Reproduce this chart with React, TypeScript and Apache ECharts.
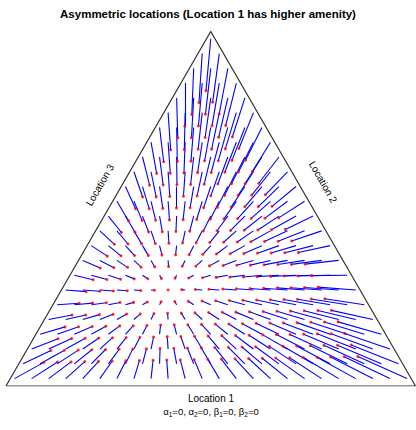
import React, { useEffect, useRef } from "react";
import * as echarts from "echarts";

// Ternary grid with 24 steps per side; all shares are in units of 1/24.
const GRID_STEPS = 24;

// Starting states: row k has Location 3 share loc3Start[k], column j has Location 2 share loc2Start[j]
const loc3Start = [
  0.5, 1.5, 2.5, 3.5, 4.5, 5.5, 6.5, 7.5, 8.5, 9.5, 10.5, 11.5,
  12.5, 13.5, 14.5, 15.5, 16.5, 17.5, 18.5, 19.5, 20.5, 21.5, 22.5, 23.5,
];
const loc2Start = [
  0.25, 1.25, 2.25, 3.25, 4.25, 5.25, 6.25, 7.25, 8.25, 9.25, 10.25, 11.25,
  12.25, 13.25, 14.25, 15.25, 16.25, 17.25, 18.25, 19.25, 20.25, 21.25, 22.25, 23.25,
];

// Next-period Location 2 share for each starting state, row by row
const loc2NextRows = [
  [1.42, 2.21, 3.0, 3.79, 4.59, 5.38, 6.17, 6.96, 7.75, 8.54, 9.33, 10.13, 10.92, 11.71, 12.5, 13.29, 14.08, 14.87, 15.67, 16.46, 17.25, 18.04, 18.83, 19.62],
  [1.43, 2.22, 3.02, 3.81, 4.6, 5.39, 6.18, 6.97, 7.76, 8.56, 9.35, 10.14, 10.93, 11.72, 12.51, 13.3, 14.1, 14.89, 15.68, 16.47, 17.26, 18.05, 18.84],
  [1.45, 2.24, 3.03, 3.82, 4.61, 5.4, 6.2, 6.99, 7.78, 8.57, 9.36, 10.15, 10.94, 11.74, 12.53, 13.32, 14.11, 14.9, 15.69, 16.48, 17.28, 18.07],
  [1.46, 2.25, 3.04, 3.83, 4.63, 5.42, 6.21, 7.0, 7.79, 8.58, 9.37, 10.17, 10.96, 11.75, 12.54, 13.33, 14.12, 14.91, 15.71, 16.5, 17.29],
  [1.47, 2.27, 3.06, 3.85, 4.64, 5.43, 6.22, 7.01, 7.81, 8.6, 9.39, 10.18, 10.97, 11.76, 12.55, 13.35, 14.14, 14.93, 15.72, 16.51],
  [1.49, 2.28, 3.07, 3.86, 4.65, 5.44, 6.24, 7.03, 7.82, 8.61, 9.4, 10.19, 10.98, 11.78, 12.57, 13.36, 14.15, 14.94, 15.73],
  [1.5, 2.29, 3.08, 3.88, 4.67, 5.46, 6.25, 7.04, 7.83, 8.62, 9.42, 10.21, 11.0, 11.79, 12.58, 13.37, 14.16, 14.95],
  [1.51, 2.31, 3.1, 3.89, 4.68, 5.47, 6.26, 7.05, 7.85, 8.64, 9.43, 10.22, 11.01, 11.8, 12.59, 13.39, 14.18],
  [1.53, 2.32, 3.11, 3.9, 4.69, 5.49, 6.28, 7.07, 7.86, 8.65, 9.44, 10.23, 11.02, 11.82, 12.61, 13.4],
  [1.54, 2.33, 3.12, 3.92, 4.71, 5.5, 6.29, 7.08, 7.87, 8.66, 9.46, 10.25, 11.04, 11.83, 12.62],
  [1.56, 2.35, 3.14, 3.93, 4.72, 5.51, 6.3, 7.09, 7.89, 8.68, 9.47, 10.26, 11.05, 11.84],
  [1.57, 2.36, 3.15, 3.94, 4.73, 5.53, 6.32, 7.11, 7.9, 8.69, 9.48, 10.27, 11.07],
  [1.58, 2.37, 3.16, 3.96, 4.75, 5.54, 6.33, 7.12, 7.91, 8.7, 9.5, 10.29],
  [1.6, 2.39, 3.18, 3.97, 4.76, 5.55, 6.34, 7.14, 7.93, 8.72, 9.51],
  [1.61, 2.4, 3.19, 3.98, 4.77, 5.57, 6.36, 7.15, 7.94, 8.73],
  [1.62, 2.41, 3.21, 4.0, 4.79, 5.58, 6.37, 7.16, 7.95],
  [1.64, 2.43, 3.22, 4.01, 4.8, 5.59, 6.38, 7.18],
  [1.65, 2.44, 3.23, 4.02, 4.82, 5.61, 6.4],
  [1.66, 2.45, 3.25, 4.04, 4.83, 5.62],
  [1.68, 2.47, 3.26, 4.05, 4.84],
  [1.69, 2.48, 3.27, 4.06],
  [1.7, 2.49, 3.29],
  [1.72, 2.51],
  [1.73],
];

// Next-period Location 3 share for each starting state, row by row
const loc3NextRows = [
  [1.6, 1.62, 1.63, 1.65, 1.67, 1.69, 1.7, 1.72, 1.74, 1.76, 1.77, 1.79, 1.81, 1.82, 1.84, 1.86, 1.88, 1.89, 1.91, 1.93, 1.95, 1.96, 1.98, 2.0],
  [2.4, 2.42, 2.43, 2.45, 2.47, 2.49, 2.5, 2.52, 2.54, 2.55, 2.57, 2.59, 2.61, 2.62, 2.64, 2.66, 2.68, 2.69, 2.71, 2.73, 2.75, 2.76, 2.78],
  [3.2, 3.22, 3.23, 3.25, 3.27, 3.28, 3.3, 3.32, 3.34, 3.35, 3.37, 3.39, 3.41, 3.42, 3.44, 3.46, 3.48, 3.49, 3.51, 3.53, 3.54, 3.56],
  [4.0, 4.01, 4.03, 4.05, 4.07, 4.08, 4.1, 4.12, 4.14, 4.15, 4.17, 4.19, 4.2, 4.22, 4.24, 4.26, 4.27, 4.29, 4.31, 4.33, 4.34],
  [4.8, 4.81, 4.83, 4.85, 4.87, 4.88, 4.9, 4.92, 4.93, 4.95, 4.97, 4.99, 5.0, 5.02, 5.04, 5.06, 5.07, 5.09, 5.11, 5.12],
  [5.6, 5.61, 5.63, 5.65, 5.66, 5.68, 5.7, 5.72, 5.73, 5.75, 5.77, 5.79, 5.8, 5.82, 5.84, 5.85, 5.87, 5.89, 5.91],
  [6.39, 6.41, 6.43, 6.45, 6.46, 6.48, 6.5, 6.52, 6.53, 6.55, 6.57, 6.58, 6.6, 6.62, 6.64, 6.65, 6.67, 6.69],
  [7.19, 7.21, 7.23, 7.25, 7.26, 7.28, 7.3, 7.31, 7.33, 7.35, 7.37, 7.38, 7.4, 7.42, 7.44, 7.45, 7.47],
  [7.99, 8.01, 8.03, 8.04, 8.06, 8.08, 8.1, 8.11, 8.13, 8.15, 8.17, 8.18, 8.2, 8.22, 8.23, 8.25],
  [8.79, 8.81, 8.83, 8.84, 8.86, 8.88, 8.89, 8.91, 8.93, 8.95, 8.96, 8.98, 9.0, 9.02, 9.03],
  [9.59, 9.61, 9.62, 9.64, 9.66, 9.68, 9.69, 9.71, 9.73, 9.75, 9.76, 9.78, 9.8, 9.81],
  [10.39, 10.41, 10.42, 10.44, 10.46, 10.48, 10.49, 10.51, 10.53, 10.54, 10.56, 10.58, 10.6],
  [11.19, 11.21, 11.22, 11.24, 11.26, 11.27, 11.29, 11.31, 11.33, 11.34, 11.36, 11.38],
  [11.99, 12.0, 12.02, 12.04, 12.06, 12.07, 12.09, 12.11, 12.13, 12.14, 12.16],
  [12.79, 12.8, 12.82, 12.84, 12.86, 12.87, 12.89, 12.91, 12.92, 12.94],
  [13.59, 13.6, 13.62, 13.64, 13.65, 13.67, 13.69, 13.71, 13.72],
  [14.38, 14.4, 14.42, 14.44, 14.45, 14.47, 14.49, 14.51],
  [15.18, 15.2, 15.22, 15.24, 15.25, 15.27, 15.29],
  [15.98, 16.0, 16.02, 16.03, 16.05, 16.07],
  [16.78, 16.8, 16.82, 16.83, 16.85],
  [17.58, 17.6, 17.61, 17.63],
  [18.38, 18.4, 18.41],
  [19.18, 19.2],
  [19.98],
];

const TITLE = "Asymmetric locations (Location 1 has higher amenity)";
const SIDE_LABELS = ["Location 1", "Location 2", "Location 3"];
const SQ3 = Math.sqrt(3) / 2;

// (Location 2, Location 3) shares -> cartesian point inside the unit equilateral triangle
function toPlot(loc2: number, loc3: number): [number, number] {
  return [(loc2 + loc3 / 2) / GRID_STEPS, (loc3 / GRID_STEPS) * SQ3];
}

const FONT = "'Liberation Sans', Arial, Helvetica, sans-serif";

export default function App() {
  const ref = useRef<HTMLDivElement>(null);

  useEffect(() => {
    if (!ref.current) return;
    const chart = echarts.init(ref.current, undefined, { renderer: "svg" });

    const arrows: { coords: [number, number][] }[] = [];
    const heads: [number, number][] = [];
    loc3Start.forEach((l3, k) => {
      const next2 = loc2NextRows[k];
      const next3 = loc3NextRows[k];
      next2.forEach((n2, j) => {
        const from = toPlot(loc2Start[j], l3);
        const to = toPlot(n2, next3[j]);
        arrows.push({ coords: [from, to] });
        heads.push(to);
      });
    });

    const sub = { fontSize: 6.5, fontFamily: FONT, fill: "#000", padding: [5, 0, 0, 0] };
    const labelStyle = { font: `10px ${FONT}`, fill: "#000", align: "center", verticalAlign: "middle" };

    chart.setOption({
      animation: false,
      backgroundColor: "#ffffff",
      title: {
        text: TITLE,
        left: "center",
        top: 3,
        textStyle: { fontSize: 11.5, fontWeight: "bold", fontFamily: FONT, color: "#000" },
      },
      grid: { left: 6, right: 0.5, top: 31.4, bottom: 44, containLabel: false },
      xAxis: { type: "value", min: 0, max: 1, show: false },
      yAxis: { type: "value", min: 0, max: SQ3, show: false },
      series: [
        {
          type: "lines",
          coordinateSystem: "cartesian2d",
          silent: true,
          data: arrows,
          lineStyle: { color: "#0000ff", width: 1.1, opacity: 1 },
          z: 2,
        },
        {
          type: "scatter",
          silent: true,
          data: heads,
          symbol: "circle",
          symbolSize: 3,
          itemStyle: { color: "#ff0000" },
          z: 3,
        },
        {
          type: "lines",
          coordinateSystem: "cartesian2d",
          polyline: true,
          silent: true,
          data: [{ coords: [[0, 0], [1, 0], [0.5, SQ3], [0, 0]] }],
          lineStyle: { color: "#333333", width: 1.2, opacity: 1 },
          z: 4,
        },
      ],
      graphic: [
        { type: "text", x: 211, y: 398.5, style: { ...labelStyle, text: SIDE_LABELS[0] } },
        {
          type: "text",
          x: 211,
          y: 411.5,
          style: {
            text: "α{s|1}=0, α{s|2}=0, β{s|1}=0, β{s|2}=0",
            fontSize: 9.5,
            fontFamily: FONT,
            fill: "#000",
            align: "center",
            verticalAlign: "middle",
            rich: { s: sub },
          },
        },
        { type: "text", x: 100, y: 185, rotation: Math.PI / 3, style: { ...labelStyle, text: SIDE_LABELS[2] } },
        { type: "text", x: 323, y: 182, rotation: -Math.PI / 3, style: { ...labelStyle, text: SIDE_LABELS[1] } },
      ],
    });

    return () => chart.dispose();
  }, []);

  return (
    <div
      ref={ref}
      style={{ position: "fixed", left: 0, top: 0, width: 416, height: 430, background: "#fff" }}
    />
  );
}
